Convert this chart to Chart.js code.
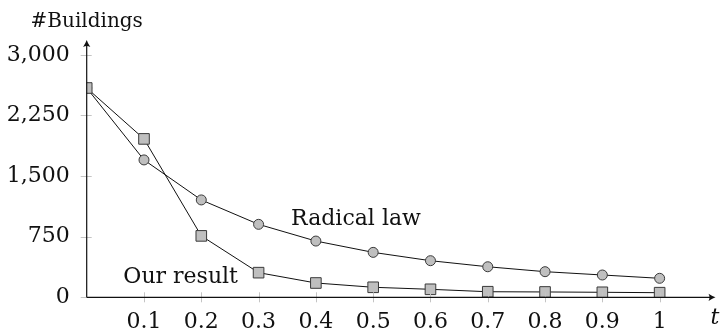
<!DOCTYPE html>
<html>
<head>
<meta charset="utf-8">
<script src="https://cdn.jsdelivr.net/npm/chart.js@4.4.1/dist/chart.umd.min.js"></script>
<style>
  html, body { margin: 0; padding: 0; background: #fff; }
  canvas { display: block; }
</style>
</head>
<body>
<canvas id="chart" width="724" height="335"></canvas>
<script>
// Parameter t and the two building-count curves
const tValues = [0, 0.1, 0.2, 0.3, 0.4, 0.5, 0.6, 0.7, 0.8, 0.9, 1];
const ourResult = [2590, 1960, 760, 305, 177, 124, 99, 69, 66, 62, 57];
const radicalLaw = [2590, 1700, 1205, 903, 696, 556, 453, 378, 317, 276, 235];

// Axis ticks and their printed labels
const xTicks = [0.1, 0.2, 0.3, 0.4, 0.5, 0.6, 0.7, 0.8, 0.9, 1];
const xTickLabels = ['0.1', '0.2', '0.3', '0.4', '0.5', '0.6', '0.7', '0.8', '0.9', '1'];
const yTicks = [0, 750, 1500, 2250, 3000];
const yTickLabels = ['0', '750', '1,500', '2,250', '3,000'];

const FONT = '"DejaVu Serif", "Liberation Serif", serif';
const INK = '#111';

// Axis lines with arrow tips, crossing tick marks, axis titles and curve names
const axesDecor = {
  id: 'axesDecor',
  afterDatasetsDraw(chart) {
    const { ctx, chartArea: a, scales: { x, y } } = chart;
    const x0 = x.getPixelForValue(0);
    const y0 = y.getPixelForValue(0);
    ctx.save();

    // tick marks straddling the axes
    ctx.strokeStyle = '#c4c4c4';
    ctx.lineWidth = 1;
    ctx.beginPath();
    xTicks.forEach(v => {
      const px = Math.round(x.getPixelForValue(v)) + 0.5;
      ctx.moveTo(px, y0 - 5); ctx.lineTo(px, y0 + 5);
    });
    yTicks.forEach(v => {
      const py = Math.round(y.getPixelForValue(v)) + 0.5;
      ctx.moveTo(x0 - 6, py); ctx.lineTo(x0 + 5, py);
    });
    ctx.stroke();

    // axis lines
    ctx.strokeStyle = INK;
    ctx.lineWidth = 1.2;
    ctx.beginPath();
    ctx.moveTo(x0, y0); ctx.lineTo(a.right - 3, y0);
    ctx.moveTo(x0, y0); ctx.lineTo(x0, a.top + 3);
    ctx.stroke();

    // arrow tips
    ctx.fillStyle = INK;
    const tip = (tx, ty, ang) => {
      ctx.save();
      ctx.translate(tx, ty);
      ctx.rotate(ang);
      ctx.beginPath();
      ctx.moveTo(0, 0);
      ctx.quadraticCurveTo(-3, 1, -7, 3.6);
      ctx.quadraticCurveTo(-5, 0, -7, -3.6);
      ctx.quadraticCurveTo(-3, -1, 0, 0);
      ctx.fill();
      ctx.restore();
    };
    tip(a.right, y0, 0);
    tip(x0, a.top, -Math.PI / 2);

    // titles and curve names
    ctx.fillStyle = INK;
    ctx.textBaseline = 'alphabetic';
    ctx.textAlign = 'center';
    ctx.font = '20px ' + FONT;
    ctx.fillText('#Buildings', x0, 27);
    ctx.font = '22px ' + FONT;
    ctx.fillText('Radical law', x.getPixelForValue(0.47), y.getPixelForValue(894));
    ctx.fillText('Our result', x.getPixelForValue(0.164), y.getPixelForValue(180));
    ctx.textAlign = 'left';
    ctx.font = 'italic 22px ' + FONT;
    ctx.fillText('t', a.right - 5, y0 + 27);
    ctx.restore();
  }
};

const markerFill = '#bfbfbf';
const markerEdge = '#3a3a3a';

new Chart(document.getElementById('chart'), {
  type: 'line',
  data: {
    labels: tValues,
    datasets: [
      {
        label: 'Our result',
        data: tValues.map((t, i) => ({ x: t, y: ourResult[i] })),
        borderColor: INK,
        borderWidth: 1,
        pointStyle: 'rect',
        pointRadius: 7.5,
        pointBackgroundColor: markerFill,
        pointBorderColor: markerEdge,
        pointBorderWidth: 1,
        tension: 0,
        fill: false
      },
      {
        label: 'Radical law',
        data: tValues.map((t, i) => ({ x: t, y: radicalLaw[i] })),
        borderColor: INK,
        borderWidth: 1,
        pointStyle: 'circle',
        pointRadius: 5,
        pointBackgroundColor: markerFill,
        pointBorderColor: markerEdge,
        pointBorderWidth: 1,
        tension: 0,
        fill: false
      }
    ]
  },
  options: {
    responsive: false,
    animation: false,
    events: [],
    layout: { padding: { top: 40, right: 1.5, left: 0, bottom: 0 } },
    plugins: { legend: { display: false }, tooltip: { enabled: false } },
    scales: {
      x: {
        type: 'linear',
        min: 0,
        max: 1.0975,
        grid: { display: false, drawTicks: false },
        border: { display: false },
        afterBuildTicks: s => { s.ticks = xTicks.map(v => ({ value: v })); },
        afterFit: s => { s.height = 37.7; },
        ticks: {
          autoSkip: false,
          maxRotation: 0,
          padding: 12,
          color: INK,
          font: { family: FONT, size: 22 },
          callback: v => xTickLabels[xTicks.indexOf(v)]
        }
      },
      y: {
        min: 0,
        max: 3184,
        grid: { display: false, drawTicks: false },
        border: { display: false },
        afterBuildTicks: s => { s.ticks = yTicks.map(v => ({ value: v })); },
        afterFit: s => { s.width = 86.7; },
        ticks: {
          autoSkip: false,
          padding: 17,
          color: INK,
          font: { family: FONT, size: 22 },
          callback: v => yTickLabels[yTicks.indexOf(v)]
        }
      }
    }
  },
  plugins: [axesDecor]
});
</script>
</body>
</html>
